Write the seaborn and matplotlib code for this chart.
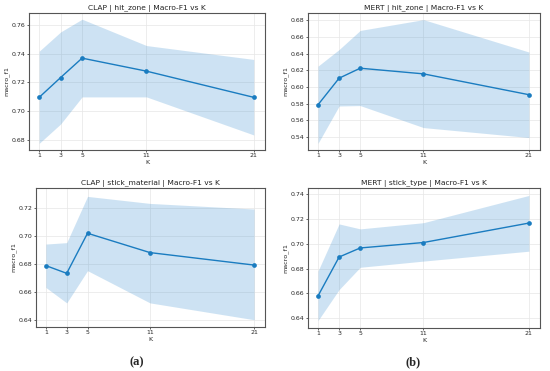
import matplotlib
matplotlib.use("Agg")
import matplotlib.pyplot as plt
import seaborn as sns
import pandas as pd

sns.set_style("whitegrid")
plt.rcParams['font.family'] = ['DejaVu Sans']

K = [1, 3, 5, 11, 21]

titles = [
    "CLAP | hit_zone | Macro-F1 vs K",
    "MERT | hit_zone | Macro-F1 vs K",
    "CLAP | stick_material | Macro-F1 vs K",
    "MERT | stick_type | Macro-F1 vs K",
]

clap_hit_mean = [0.7097, 0.7234, 0.7368, 0.7278, 0.7097]
clap_hit_hi = [0.7416, 0.7549, 0.7637, 0.7455, 0.7359]
clap_hit_lo = [0.6779, 0.6913, 0.7100, 0.7100, 0.6837]

mert_hit_mean = [0.5785, 0.6105, 0.6225, 0.6157, 0.5906]
mert_hit_hi = [0.6250, 0.6450, 0.6680, 0.6810, 0.6420]
mert_hit_lo = [0.5320, 0.5770, 0.5775, 0.5510, 0.5390]

clap_stick_mean = [0.6786, 0.6731, 0.7017, 0.6879, 0.6790]
clap_stick_hi = [0.6940, 0.6950, 0.7280, 0.7230, 0.7190]
clap_stick_lo = [0.6630, 0.6520, 0.6750, 0.6520, 0.6400]

mert_stick_mean = [0.6579, 0.6893, 0.6966, 0.7010, 0.7167]
mert_stick_hi = [0.6780, 0.7160, 0.7120, 0.7170, 0.7390]
mert_stick_lo = [0.6380, 0.6630, 0.6810, 0.6860, 0.6940]

means = [clap_hit_mean, mert_hit_mean, clap_stick_mean, mert_stick_mean]
highs = [clap_hit_hi, mert_hit_hi, clap_stick_hi, mert_stick_hi]
lows = [clap_hit_lo, mert_hit_lo, clap_stick_lo, mert_stick_lo]
ylims = [(0.6733, 0.768), (0.524, 0.689), (0.6348, 0.734), (0.632, 0.745)]

W, H = 550, 371
fig = plt.figure(figsize=(W / 100, H / 100), dpi=100)

# pixel boxes: left, right, top, bottom
boxes = [(29, 265, 13, 150), (308, 540, 13, 150), (36, 265, 188, 327), (308, 540, 188, 328)]

line_color = "#1a7cc0"
fill_color = "#3a8fd0"
for i in range(4):
    l, r, t, b = boxes[i]
    ax = fig.add_axes([l / W, 1 - b / H, (r - l) / W, (b - t) / H])
    df = pd.DataFrame({"K": K, "macro_f1": means[i]})
    ax.fill_between(K, lows[i], highs[i], color=fill_color, alpha=0.25, linewidth=0)
    sns.lineplot(data=df, x="K", y="macro_f1", marker="o", color=line_color,
                 linewidth=1.0, markersize=3.4, markeredgewidth=0, ax=ax)
    ax.set_xticks(K)
    ax.set_xlim(0.05, 22.05)
    ax.set_ylim(*ylims[i])
    ax.set_title(titles[i], fontsize=5.4, pad=2.5, color="#222222")
    ax.set_xlabel("K", fontsize=4.6, labelpad=1)
    ax.set_ylabel("macro_f1", fontsize=4.6, labelpad=1.5)
    ax.tick_params(labelsize=4.5, length=1.5, width=0.5, pad=1)
    ax.tick_params(axis='x', bottom=True)
    ax.tick_params(axis='y', left=True)
    ax.grid(True, color="#e6e6e6", linewidth=0.5)
    for s in ax.spines.values():
        s.set_color("#555555")
        s.set_linewidth(0.8)

fig.text(137 / W, 1 - 362 / H, "(a)", ha="center", va="center", fontsize=9,
         fontweight="bold", family=["Liberation Serif", "DejaVu Serif"])
fig.text(413 / W, 1 - 362 / H, "(b)", ha="center", va="center", fontsize=9,
         fontweight="bold", family=["Liberation Serif", "DejaVu Serif"])

fig.savefig("out.png", dpi=100)
